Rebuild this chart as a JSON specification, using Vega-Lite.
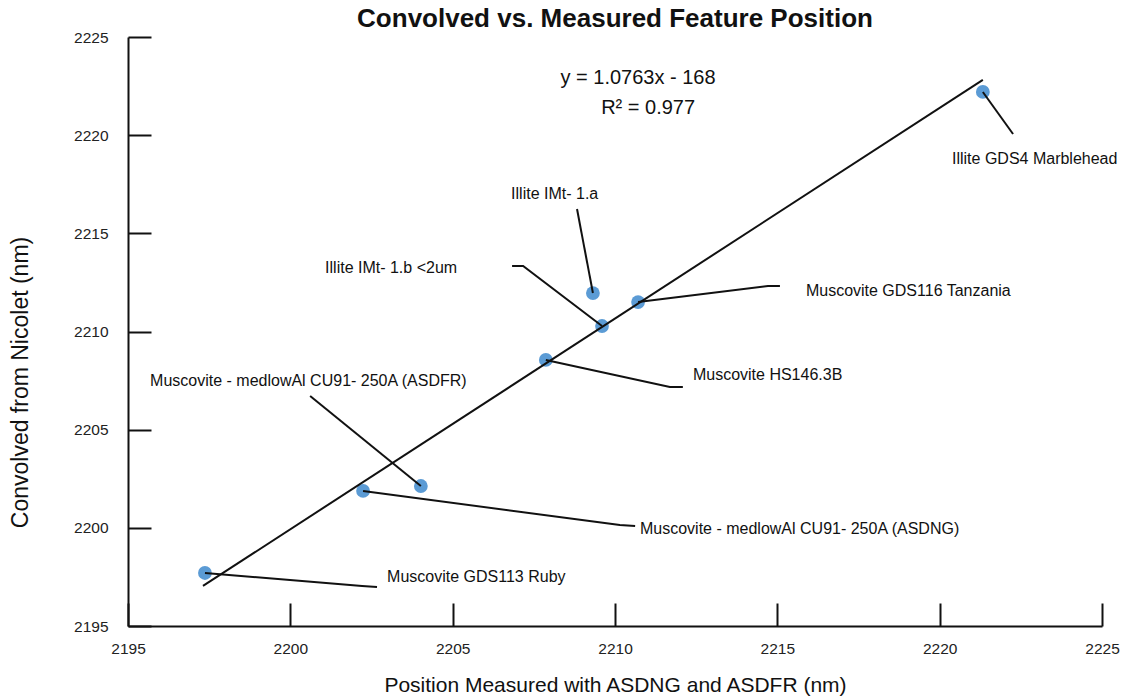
{
  "$schema": "https://vega.github.io/schema/vega-lite/v6.json",
  "width": 974,
  "height": 589,
  "autosize": {"type": "none"},
  "padding": {"left": 128, "top": 37, "right": 32, "bottom": 72},
  "background": "white",
  "config": {
    "view": {"stroke": null},
    "font": "Liberation Sans",
    "axis": {
      "domainColor": "#111",
      "domainWidth": 2,
      "tickColor": "#111",
      "tickWidth": 2,
      "tickSize": -23,
      "grid": false,
      "format": "d",
      "labelFlush": false,
      "labelOverlap": false,
      "labelFont": "Liberation Sans",
      "labelFontSize": 15.5,
      "labelColor": "#222",
      "titleFont": "Liberation Sans",
      "titleFontSize": 21,
      "titleFontWeight": "normal",
      "titleColor": "#111"
    }
  },
  "title": {
    "text": "Convolved vs. Measured Feature Position",
    "font": "Liberation Sans",
    "fontSize": 26,
    "fontWeight": "bold",
    "color": "#111",
    "anchor": "middle",
    "frame": "group",
    "offset": 10,
    "dy": 12
  },
  "datasets": {
    "points": [
      {"name": "Muscovite GDS113 Ruby", "x": 2197.37, "y": 2197.70},
      {"name": "Muscovite - medlowAl CU91- 250A (ASDNG)", "x": 2202.24, "y": 2201.88},
      {"name": "Muscovite - medlowAl CU91- 250A (ASDFR)", "x": 2204.02, "y": 2202.13},
      {"name": "Muscovite HS146.3B", "x": 2207.87, "y": 2208.55},
      {"name": "Illite IMt- 1.a", "x": 2209.32, "y": 2211.96},
      {"name": "Illite IMt- 1.b <2um", "x": 2209.60, "y": 2210.28},
      {"name": "Muscovite GDS116 Tanzania", "x": 2210.71, "y": 2211.50},
      {"name": "Illite GDS4  Marblehead", "x": 2221.33, "y": 2222.20}
    ],
    "trend": [
      {"x": 2197.31, "y": 2197.04},
      {"x": 2221.33, "y": 2222.82}
    ],
    "leaders": [
      {"name": "Ruby", "seq": 1, "x": 2197.37, "y": 2197.70},
      {"name": "Ruby", "seq": 2, "x": 2202.21, "y": 2197.04},
      {"name": "Ruby", "seq": 3, "x": 2202.67, "y": 2196.99},
      {"name": "ASDNG", "seq": 1, "x": 2202.24, "y": 2201.88},
      {"name": "ASDNG", "seq": 2, "x": 2210.15, "y": 2200.14},
      {"name": "ASDNG", "seq": 3, "x": 2210.62, "y": 2200.09},
      {"name": "ASDFR", "seq": 1, "x": 2204.02, "y": 2202.13},
      {"name": "ASDFR", "seq": 2, "x": 2200.61, "y": 2206.71},
      {"name": "HS146", "seq": 1, "x": 2207.87, "y": 2208.55},
      {"name": "HS146", "seq": 2, "x": 2211.69, "y": 2207.17},
      {"name": "HS146", "seq": 3, "x": 2212.09, "y": 2207.17},
      {"name": "IMt1a", "seq": 1, "x": 2209.32, "y": 2211.96},
      {"name": "IMt1a", "seq": 2, "x": 2208.83, "y": 2216.24},
      {"name": "IMt1b", "seq": 1, "x": 2209.60, "y": 2210.28},
      {"name": "IMt1b", "seq": 2, "x": 2207.17, "y": 2213.34},
      {"name": "IMt1b", "seq": 3, "x": 2206.83, "y": 2213.34},
      {"name": "GDS116", "seq": 1, "x": 2210.71, "y": 2211.50},
      {"name": "GDS116", "seq": 2, "x": 2214.71, "y": 2212.32},
      {"name": "GDS116", "seq": 3, "x": 2215.08, "y": 2212.32},
      {"name": "GDS4", "seq": 1, "x": 2221.33, "y": 2222.20},
      {"name": "GDS4", "seq": 2, "x": 2222.26, "y": 2220.06}
    ],
    "labels": [
      {"text": "Muscovite GDS113 Ruby", "x": 2202.98, "y": 2197.50},
      {"text": "Muscovite - medlowAl CU91- 250A (ASDNG)", "x": 2210.77, "y": 2199.94},
      {"text": "Muscovite - medlowAl CU91- 250A (ASDFR)", "x": 2195.68, "y": 2207.48},
      {"text": "Muscovite HS146.3B", "x": 2212.40, "y": 2207.78},
      {"text": "Illite IMt- 1.b <2um", "x": 2201.07, "y": 2213.23},
      {"text": "Illite IMt- 1.a", "x": 2206.80, "y": 2217.00},
      {"text": "Muscovite GDS116 Tanzania", "x": 2215.88, "y": 2212.06},
      {"text": "Illite GDS4  Marblehead", "x": 2220.38, "y": 2218.79}
    ],
    "equation": [
      {"text": "y = 1.0763x -  168", "x": 2210.71, "y": 2222.91},
      {"text": "R² = 0.977", "x": 2211.02, "y": 2221.38}
    ]
  },
  "layer": [
    {
      "data": {"name": "points"},
      "mark": {"type": "circle", "color": "#5B9BD5", "opacity": 1, "size": 190},
      "encoding": {
        "x": {
          "field": "x", "type": "quantitative",
          "scale": {"domain": [2195, 2225], "nice": false, "zero": false},
          "axis": {
            "values": [2195, 2200, 2205, 2210, 2215, 2220, 2225],
            "title": "Position Measured with ASDNG and ASDFR (nm)",
            "labelPadding": 38,
            "titlePadding": 18
          }
        },
        "y": {
          "field": "y", "type": "quantitative",
          "scale": {"domain": [2195, 2225], "nice": false, "zero": false},
          "axis": {
            "values": [2195, 2200, 2205, 2210, 2215, 2220, 2225],
            "title": "Convolved  from Nicolet (nm)",
            "titleFontSize": 23,
            "labelPadding": 43,
            "titleY": 345,
            "titleX": -108,
            "titleBaseline": "middle"
          }
        }
      }
    },
    {
      "data": {"name": "trend"},
      "mark": {"type": "line", "color": "#111", "strokeWidth": 2},
      "encoding": {
        "x": {"field": "x", "type": "quantitative"},
        "y": {"field": "y", "type": "quantitative"}
      }
    },
    {
      "data": {"name": "leaders"},
      "mark": {"type": "line", "color": "#111", "strokeWidth": 2},
      "encoding": {
        "x": {"field": "x", "type": "quantitative"},
        "y": {"field": "y", "type": "quantitative"},
        "detail": {"field": "name"},
        "order": {"field": "seq"}
      }
    },
    {
      "data": {"name": "labels"},
      "mark": {"type": "text", "align": "left", "baseline": "middle", "fontSize": 16, "color": "#111", "font": "Liberation Sans"},
      "encoding": {
        "x": {"field": "x", "type": "quantitative"},
        "y": {"field": "y", "type": "quantitative"},
        "text": {"field": "text"}
      }
    },
    {
      "data": {"name": "equation"},
      "mark": {"type": "text", "align": "center", "baseline": "middle", "fontSize": 20, "color": "#111", "font": "Liberation Sans"},
      "encoding": {
        "x": {"field": "x", "type": "quantitative"},
        "y": {"field": "y", "type": "quantitative"},
        "text": {"field": "text"}
      }
    }
  ]
}
